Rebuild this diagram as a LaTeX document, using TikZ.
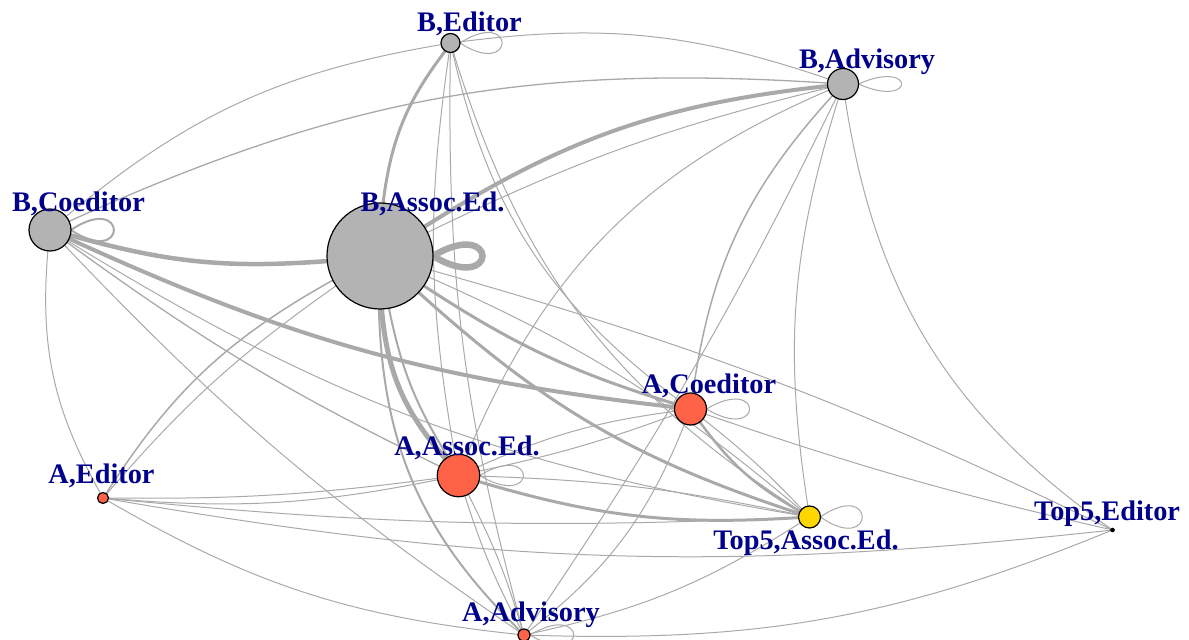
\documentclass[tikz,border=0pt]{standalone}
\usepackage{fontspec}
\setmainfont{Liberation Serif}
\pgfdeclarelayer{bg}
\pgfsetlayers{bg,main}
\definecolor{eg}{HTML}{A9A9A9}
\definecolor{vg}{HTML}{B3B3B3}
\definecolor{vt}{HTML}{FF6347}
\definecolor{vy}{HTML}{FFD700}
\definecolor{lb}{HTML}{00008B}
\begin{document}
\begin{tikzpicture}[x=1bp,y=-1bp,
  vtx/.style={circle,draw=black,line width=1.2bp,inner sep=0pt,outer sep=0pt,minimum size=#1},
  lab/.style={font=\bfseries\fontsize{28.4}{30}\selectfont,text=lb,anchor=base,inner sep=0pt},
  ed/.style={draw=eg,line width=#1},
  ed/.default=1bp]
\useasboundingbox (0,0) rectangle (1189,640);
% vertices
\node[vtx=19bp,fill=vg] (BE) at (450.5,43) {};
\node[vtx=31bp,fill=vg] (BA) at (843,84) {};
\node[vtx=42bp,fill=vg] (BC) at (50,230) {};
\node[vtx=106bp,fill=vg] (BS) at (380,256) {};
\node[vtx=32bp,fill=vt] (AC) at (690.5,409) {};
\node[vtx=42.5bp,fill=vt] (AS) at (458.5,475.5) {};
\node[vtx=11bp,fill=vt] (AE) at (103,498) {};
\node[vtx=12bp,fill=vt] (AA) at (524,635) {};
\node[vtx=22bp,fill=vy] (TS) at (809.5,517) {};
\node[vtx=4bp,fill=black,line width=0.5bp] (TE) at (1112.5,530) {};
% labels
\node[lab] (lBE) at (469.5,32) {B,Editor};
\node[lab] (lBA) at (867,69) {B,Advisory};
\node[lab] (lBC) at (78.5,212) {B,Coeditor};
\node[lab] (lBS) at (432.5,212) {B,Assoc.Ed.};
\node[lab] (lAC) at (709,393) {A,Coeditor};
\node[lab] (lAS) at (467,455) {A,Assoc.Ed.};
\node[lab] (lAE) at (101.5,483) {A,Editor};
\node[lab] (lAA) at (531,621) {A,Advisory};
\node[lab] (lTS) at (806,549) {Top5,Assoc.Ed.};
\node[lab] (lTE) at (1107,520) {Top5,Editor};
\begin{pgfonlayer}{bg}
\draw[ed] (BC) to[bend left=15] (BE);
\draw[ed=1.3bp] (BC) to[bend left=14] (BA);
\draw[ed] (BE) to[bend left=13] (BA);
\draw[ed=3bp] (BE) to[bend right=15] (BS);
\draw[ed=4.5bp] (BC) to[bend right=10] (BS);
\draw[ed=4bp] (BC) to[bend right=9] (AC);
\draw[ed=4bp] (BS) to[bend left=13] (BA);
\draw[ed] (BS) to[bend left=6] (BA);
\draw[ed=5bp] (BS) to[bend right=18] (AS);
\draw[ed=2bp] (BS) to[bend right=10] (AS);
\draw[ed=2bp] (BS) to[bend right=22] (AA);
\draw[ed=1.5bp] (BS) to[bend right=14] (AE);
\draw[ed] (BS) to[bend right=7] (AE);
\draw[ed=3bp] (BS) to[bend right=8] (AC);
\draw[ed=3bp] (BS) to[bend right=12] (TS);
\draw[ed] (BS) to[bend left=8] (TS);
\draw[ed] (BS) to[bend left=5] (TE);
\draw[ed=1.3bp] (BC) to[bend right=5] (AS);
\draw[ed] (BC) to[bend right=11] (TS);
\draw[ed] (BC) to[bend right=17] (AE);
\draw[ed] (BC) to[bend right=6] (AA);
\draw[ed] (AE) to[bend right=8] (AS);
\draw[ed] (AE) to[bend right=4] (AS);
\draw[ed] (AE) to[bend right=4] (TS);
\draw[ed] (AE) to[bend right=8] (TE);
\draw[ed] (AE) to[bend right=12] (AA);
\draw[ed=3bp] (AS) to[bend right=10] (TS);
\draw[ed] (AS) to[bend left=5] (TS);
\draw[ed] (AS) to[bend left=8] (AC);
\draw[ed] (AS) to[bend right=4] (AC);
\draw[ed] (AS) to[bend left=5] (AA);
\draw[ed] (AS) to[bend right=5] (AA);
\draw[ed] (AS) to[bend left=22] (BA);
\draw[ed=1.5bp] (AC) to[bend left=17] (BA);
\draw[ed=2.5bp] (AC) to[bend right=12] (TS);
\draw[ed] (AC) to[bend left=4] (TS);
\draw[ed] (AC) to[bend left=15] (AA);
\draw[ed] (AC) to[bend right=3] (TE);
\draw[ed] (TS) to[bend left=13] (BA);
\draw[ed] (BA) to[bend right=23] (TE);
\draw[ed] (AA) to[bend right=10] (TS);
\draw[ed] (AA) to[bend right=12] (TE);
\draw[ed] (AA) to[bend right=4] (BA);
\draw[ed] (BE) to[bend right=9] (AS);
\draw[ed] (BE) to[bend right=8] (AA);
\draw[ed] (BE) to[bend right=20] (AC);
\draw[ed] (BE) to[bend right=20] (TS);
% loops
\draw[ed] (BE.east) to[out=33,in=-33,distance=67bp] (BE.east);
\draw[ed] (BA.east) to[out=24,in=-24,distance=63bp] (BA.east);
\draw[ed=2bp] (BC.east) to[out=34,in=-34,distance=69bp] (BC.east);
\draw[ed=6.5bp] (BS.east) to[out=31,in=-31,distance=77bp] (BS.east);
\draw[ed] (AC.east) to[out=31,in=-31,distance=67bp] (AC.east);
\draw[ed] (AS.east) to[out=31,in=-31,distance=68bp] (AS.east);
\draw[ed] (AA.east) to[out=31,in=-31,distance=68bp] (AA.east);
\draw[ed] (TS.east) to[out=35,in=-35,distance=68bp] (TS.east);
\end{pgfonlayer}
\end{tikzpicture}
\end{document}
